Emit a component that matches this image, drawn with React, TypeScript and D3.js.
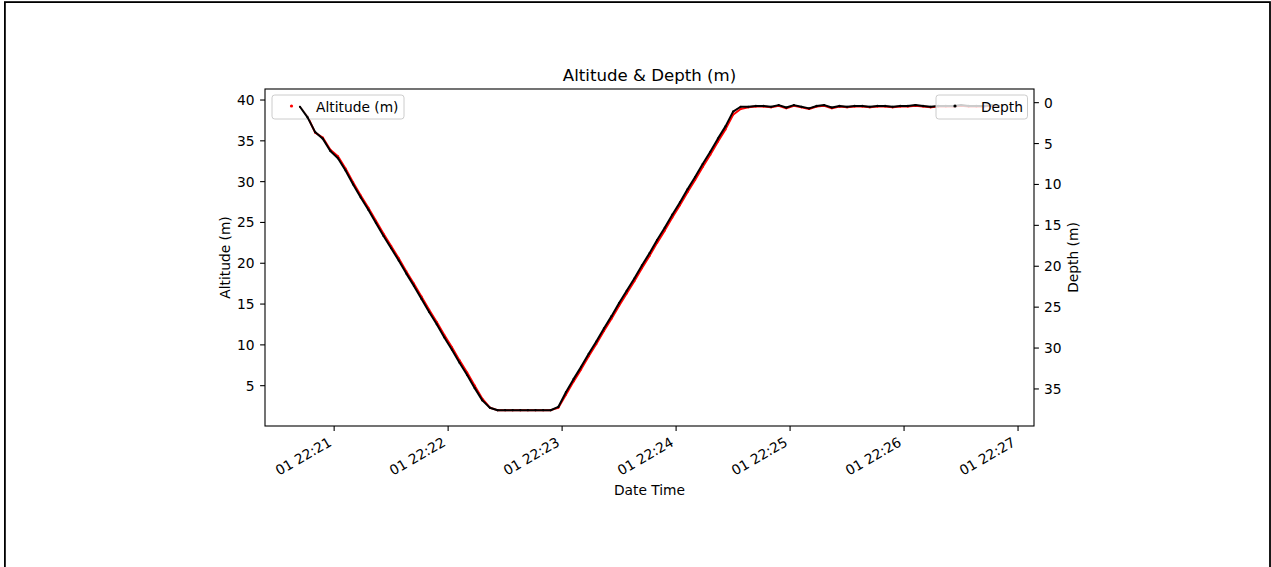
import React from 'react';
import * as d3 from 'd3';

// seconds after 22:20:00 on day 01
const SECONDS = [
  42, 46, 50, 54, 58, 62, 66, 70, 74, 78, 82, 86, 90, 94, 98, 102, 106, 110, 114, 118,
  122, 126, 130, 134, 138, 142, 146, 150, 154, 158, 162, 166, 170, 174, 178, 182, 186, 190, 194, 198,
  202, 206, 210, 214, 218, 222, 226, 230, 234, 238, 242, 246, 250, 254, 258, 262, 266, 270, 274, 278,
  282, 286, 290, 294, 298, 302, 306, 310, 314, 318, 322, 326, 330, 334, 338, 342, 346, 350, 354, 358,
  362, 366, 370, 374, 378, 382, 386, 390, 394, 398, 402, 406, 410,
];

const ALTITUDE = [
  39.2, 38.0, 36.0, 35.4, 33.9, 33.1, 31.6, 29.9, 28.3, 26.8, 25.2, 23.6, 22.1, 20.6, 19.0, 17.5, 15.9, 14.3, 12.8, 11.2,
  9.7, 8.1, 6.6, 5.0, 3.4, 2.3, 2.0, 2.0, 2.0, 2.0, 2.0, 2.0, 2.0, 2.0, 2.3, 3.9, 5.5, 7.0, 8.6, 10.1,
  11.7, 13.2, 14.8, 16.3, 17.8, 19.4, 20.9, 22.5, 24.0, 25.6, 27.1, 28.7, 30.2, 31.8, 33.3, 34.9, 36.4, 38.2, 38.9, 39.1,
  39.2, 39.2, 39.1, 39.3, 39.0, 39.3, 39.1, 38.9, 39.2, 39.3, 39.0, 39.2, 39.1, 39.2, 39.2, 39.1, 39.2, 39.2, 39.1, 39.2,
  39.2, 39.3, 39.2, 39.1, 39.2, 39.2, 39.2, 39.3, 39.2, 39.2, 39.2, 39.3, 39.2,
];

const DEPTH = [
  0.5, 1.8, 3.6, 4.4, 5.9, 6.8, 8.3, 10.0, 11.6, 13.1, 14.7, 16.3, 17.8, 19.3, 20.9, 22.4, 24.0, 25.6, 27.1, 28.7,
  30.2, 31.8, 33.3, 34.9, 36.4, 37.3, 37.6, 37.6, 37.6, 37.6, 37.6, 37.6, 37.6, 37.6, 37.2, 35.4, 33.8, 32.3, 30.7, 29.2,
  27.6, 26.1, 24.5, 23.0, 21.5, 19.9, 18.4, 16.8, 15.3, 13.7, 12.2, 10.6, 9.1, 7.5, 6.0, 4.4, 2.9, 1.1, 0.5, 0.5,
  0.4, 0.4, 0.5, 0.3, 0.6, 0.3, 0.5, 0.7, 0.4, 0.3, 0.6, 0.4, 0.5, 0.4, 0.4, 0.5, 0.4, 0.4, 0.5, 0.4,
  0.4, 0.3, 0.4, 0.5, 0.4, 0.4, 0.4, 0.3, 0.4, 0.4, 0.4, 0.3, 0.4,
];

const ALT_TICKS = [5, 10, 15, 20, 25, 30, 35, 40];
const DEPTH_TICKS = [0, 5, 10, 15, 20, 25, 30, 35];
const TIME_TICK_MINUTES = [21, 22, 23, 24, 25, 26, 27];

const ALT_LIMITS: [number, number] = [0.06, 41.35];
const DEPTH_LIMITS: [number, number] = [-1.67, 39.53];
const TIME_LIMITS: [number, number] = [23.6, 428.4];

const W = 1271;
const H = 567;
const M = { left: 265, right: 1034, top: 89, bottom: 426 };
const FONT = '"DejaVu Sans", sans-serif';
const FS = 13.8;

const toDate = (s: number) => new Date(2021, 0, 1, 22, 20, 0, Math.round(s * 1000));

export default function App() {
  const x = d3.scaleTime().domain(TIME_LIMITS.map(toDate)).range([M.left, M.right]);
  const yA = d3.scaleLinear().domain(ALT_LIMITS).range([M.bottom, M.top]);
  const yD = d3.scaleLinear().domain(DEPTH_LIMITS).range([M.top, M.bottom]);
  const fmt = d3.timeFormat('%d %H:%M');

  const altPts = SECONDS.map((s, i) => [x(toDate(s)), yA(ALTITUDE[i])] as [number, number]);
  const depPts = SECONDS.map((s, i) => [x(toDate(s)), yD(DEPTH[i])] as [number, number]);
  const line = d3.line();

  const tickLen = 4.9;
  const cx = (M.left + M.right) / 2;
  const cy = (M.top + M.bottom) / 2;

  return (
    <svg width={W} height={H} style={{ position: 'absolute', left: 0, top: 0, background: '#fff' }}
      fontFamily={FONT}>
      <rect x={0} y={0} width={W} height={H} fill="#fff" />
      <rect x={4.9} y={2.1} width={1265.1} height={620} fill="none" stroke="#000" strokeWidth={1.8} />

      <text x={cx} y={80.5} textAnchor="middle" fontSize={16.6} fill="#000">Altitude &amp; Depth (m)</text>

      {/* altitude series */}
      <path d={line(altPts) || ''} fill="none" stroke="#ff0000" strokeWidth={2} strokeLinejoin="round" />
      {altPts.map((p, i) => (
        <circle key={'a' + i} cx={p[0]} cy={p[1]} r={1.1} fill="#ff0000" />
      ))}

      {/* altitude legend */}
      <rect x={272} y={95} width={132} height={24} rx={2.8} fill="#fff" fillOpacity={0.8} stroke="#cccccc" strokeWidth={1} />
      <circle cx={291.5} cy={106} r={1.6} fill="#ff0000" />
      <text x={316} y={111.5} fontSize={FS} fill="#000">Altitude (m)</text>

      {/* depth series */}
      <path d={line(depPts) || ''} fill="none" stroke="#000" strokeWidth={2} strokeLinejoin="round" />
      {depPts.map((p, i) => (
        <circle key={'d' + i} cx={p[0]} cy={p[1]} r={1.1} fill="#000" />
      ))}

      {/* depth legend */}
      <rect x={936} y={95} width={91.5} height={24} rx={2.8} fill="#fff" fillOpacity={0.8} stroke="#cccccc" strokeWidth={1} />
      <circle cx={955} cy={106} r={1.6} fill="#000" />
      <text x={981} y={111.5} fontSize={FS} fill="#000">Depth</text>

      {/* frame */}
      <rect x={M.left} y={M.top} width={M.right - M.left} height={M.bottom - M.top} fill="none" stroke="#000" strokeWidth={1.1} />

      {/* left axis */}
      {ALT_TICKS.map((t) => (
        <g key={'la' + t}>
          <line x1={M.left - tickLen} x2={M.left} y1={yA(t)} y2={yA(t)} stroke="#000" strokeWidth={1.1} />
          <text x={M.left - tickLen - 5.5} y={yA(t)} dy="0.36em" textAnchor="end" fontSize={FS} fill="#000">{t}</text>
        </g>
      ))}
      <text transform={`translate(230,${cy}) rotate(-90)`} textAnchor="middle" fontSize={FS} fill="#000">Altitude (m)</text>

      {/* right axis */}
      {DEPTH_TICKS.map((t) => (
        <g key={'rd' + t}>
          <line x1={M.right} x2={M.right + tickLen} y1={yD(t)} y2={yD(t)} stroke="#000" strokeWidth={1.1} />
          <text x={M.right + tickLen + 5} y={yD(t)} dy="0.36em" textAnchor="start" fontSize={FS} fill="#000">{t}</text>
        </g>
      ))}
      <text transform={`translate(1078,${cy}) rotate(-90)`} textAnchor="middle" fontSize={FS} fill="#000">Depth (m)</text>

      {/* bottom axis */}
      {TIME_TICK_MINUTES.map((m) => {
        const d = new Date(2021, 0, 1, 22, m, 0);
        const px = x(d);
        return (
          <g key={'bt' + m}>
            <line x1={px} x2={px} y1={M.bottom} y2={M.bottom + tickLen} stroke="#000" strokeWidth={1.1} />
            <text transform={`translate(${px - 1.6},${M.bottom + 19}) rotate(-30)`} textAnchor="end" fontSize={FS} fill="#000">{fmt(d)}</text>
          </g>
        );
      })}
      <text x={cx} y={495} textAnchor="middle" fontSize={FS} fill="#000">Date Time</text>
    </svg>
  );
}
